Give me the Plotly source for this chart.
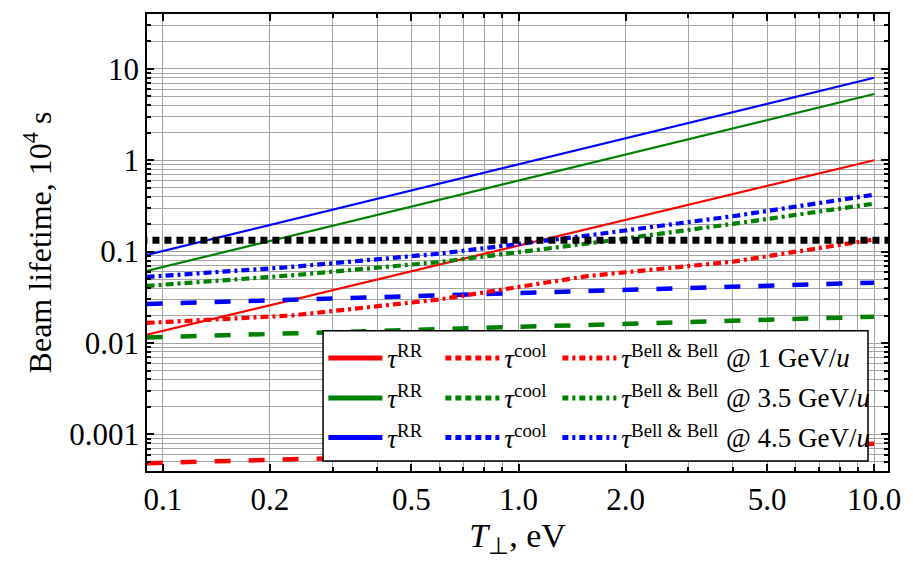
import plotly.graph_objects as go

# ---------------- data ----------------
T_lin = [0.09, 1.0, 10.0]
rr_1 = [0.0123, 0.117, 1.0]
rr_35 = [0.0615, 0.60, 5.3]
rr_45 = [0.092, 0.90, 8.0]

cool_1 = [0.000485, 0.00062, 0.00079]
cool_35 = [0.0115, 0.0149, 0.0194]
cool_45 = [0.0267, 0.0351, 0.0458]

T_bell = [0.09, 0.23, 0.6, 1.56, 4.0, 10.0]
bell_1 = [0.0166, 0.0200, 0.030, 0.054, 0.0776, 0.136]
bell_35 = [0.0422, 0.055, 0.077, 0.1225, 0.201, 0.335]
bell_45 = [0.0529, 0.068, 0.095, 0.150, 0.244, 0.42]

T_ref = [0.08, 12.0]
ref_level = [0.133, 0.133]

x_tickvals = [0.1, 0.2, 0.5, 1, 2, 5, 10]
x_ticktext = ["0.1", "0.2", "0.5", "1.0", "2.0", "5.0", "10.0"]
y_tickvals = [0.001, 0.01, 0.1, 1, 10]
y_ticktext = ["0.001", "0.01", "0.1", "1", "10"]

energies = ["@ 1 GeV/<i>u</i>", "@ 3.5 GeV/<i>u</i>", "@ 4.5 GeV/<i>u</i>"]
colors = ["#ff0000", "#008000", "#0000ff"]

# ---------------- styles ----------------
FONT = "Liberation Serif"
W_RR = 2.2
W_COOL = 4.5
DASH_COOL = "16px,18px"
W_BELL = 4.2
DASH_BELL = "8px,4px,3px,4px"

fig = go.Figure()

rr_sets = [rr_1, rr_35, rr_45]
cool_sets = [cool_1, cool_35, cool_45]
bell_sets = [bell_1, bell_35, bell_45]

for vals, c in zip(rr_sets, colors):
    fig.add_trace(go.Scatter(x=T_lin, y=vals, mode="lines", showlegend=False,
                             line=dict(color=c, width=W_RR), hoverinfo="skip"))
for vals, c in zip(cool_sets, colors):
    fig.add_trace(go.Scatter(x=T_lin, y=vals, mode="lines", showlegend=False,
                             line=dict(color=c, width=W_COOL, dash=DASH_COOL), hoverinfo="skip"))
for vals, c in zip(bell_sets, colors):
    fig.add_trace(go.Scatter(x=T_bell, y=vals, mode="lines", showlegend=False,
                             line=dict(color=c, width=W_BELL, dash=DASH_BELL),
                             hoverinfo="skip"))
fig.add_trace(go.Scatter(x=T_ref, y=ref_level, mode="lines", showlegend=False,
                         line=dict(color="black", width=7, dash="7px,5px"), hoverinfo="skip"))

# ---------------- legend (one legend per row) ----------------
legend_names = ["legend", "legend2", "legend3"]
for i, c in enumerate(colors):
    lg = legend_names[i]
    fig.add_trace(go.Scatter(x=[None], y=[None], mode="lines", legend=lg,
                             name="<i>τ</i><sup>RR</sup>",
                             line=dict(color=c, width=5)))
    fig.add_trace(go.Scatter(x=[None], y=[None], mode="lines", legend=lg,
                             name="<i>τ</i><sup>cool</sup>",
                             line=dict(color=c, width=5, dash="6px,4px")))
    fig.add_trace(go.Scatter(x=[None], y=[None], mode="lines", legend=lg,
                             name="<i>τ</i><sup>Bell &amp; Bell</sup>",
                             line=dict(color=c, width=5, dash="6px,4px,3px,4px")))
    fig.add_trace(go.Scatter(x=[None], y=[None], mode="lines", legend=lg,
                             name=" ",
                             line=dict(color="rgba(0,0,0,0)", width=0)))

row_y = [0.2465, 0.159, 0.0723]
legend_common = dict(orientation="h", xanchor="left", yanchor="middle",
                     x=0.238, bgcolor="rgba(0,0,0,0)", borderwidth=0,
                     font=dict(family=FONT, size=27, color="black"),
                     itemwidth=54, entrywidth=48, entrywidthmode="pixels",
                     itemclick=False, itemdoubleclick=False)

annotations = [dict(xref="paper", yref="paper", x=0.7785, y=yy, xanchor="left",
                    yanchor="middle", text=t, showarrow=False,
                    font=dict(family=FONT, size=27, color="black"))
               for t, yy in zip(energies, row_y)]

minor_x = [k * 10 ** n for n in (-2, -1, 0, 1) for k in range(1, 10)]
minor_x = [v for v in minor_x if v not in x_tickvals]
minor_y = [k * 10 ** n for n in (-4, -3, -2, -1, 0, 1) for k in range(1, 10)]
minor_y = [v for v in minor_y if v not in y_tickvals]

axis_common = dict(type="log", showline=True, linecolor="black", linewidth=1.5,
                   mirror="allticks", ticks="inside", ticklen=7, tickwidth=1.5,
                   tickcolor="black", showgrid=True, gridcolor="#a4a4a4", gridwidth=1.3,
                   zeroline=False,
                   tickfont=dict(family=FONT, size=31, color="black"))

fig.update_layout(
    width=913, height=562,
    margin=dict(l=147, r=21, t=12, b=91),
    paper_bgcolor="white", plot_bgcolor="white",
    font=dict(family=FONT, color="black"),
    xaxis=dict(axis_common, range=[-1.0447, 1.039], tickmode="array",
               tickvals=x_tickvals, ticktext=x_ticktext,
               minor=dict(tickmode="array", tickvals=minor_x, ticks="inside", ticklen=4,
                          tickcolor="black", showgrid=True, gridcolor="#a4a4a4", gridwidth=1.3),
               title=dict(text="<i>T</i><sub>⊥</sub>, eV", font=dict(family=FONT, size=34),
                          standoff=6)),
    yaxis=dict(axis_common, range=[-3.40, 1.60], tickmode="array",
               tickvals=y_tickvals, ticktext=y_ticktext,
               minor=dict(tickmode="array", tickvals=minor_y, ticks="inside", ticklen=4,
                          tickcolor="black", showgrid=True, gridcolor="#a4a4a4", gridwidth=1.3),
               title=dict(text="Beam lifetime, 10<sup>4</sup> s", font=dict(family=FONT, size=32),
                          standoff=8)),
    legend=dict(legend_common, y=row_y[0]),
    legend2=dict(legend_common, y=row_y[1]),
    legend3=dict(legend_common, y=row_y[2]),
    annotations=annotations,
    shapes=[dict(type="rect", xref="paper", yref="paper",
                 x0=0.2376, x1=0.973, y0=0.0218, y1=0.307,
                 fillcolor="white", line=dict(color="black", width=1.5), layer="above")],
    hovermode=False,
)

fig.write_html("out.html")
